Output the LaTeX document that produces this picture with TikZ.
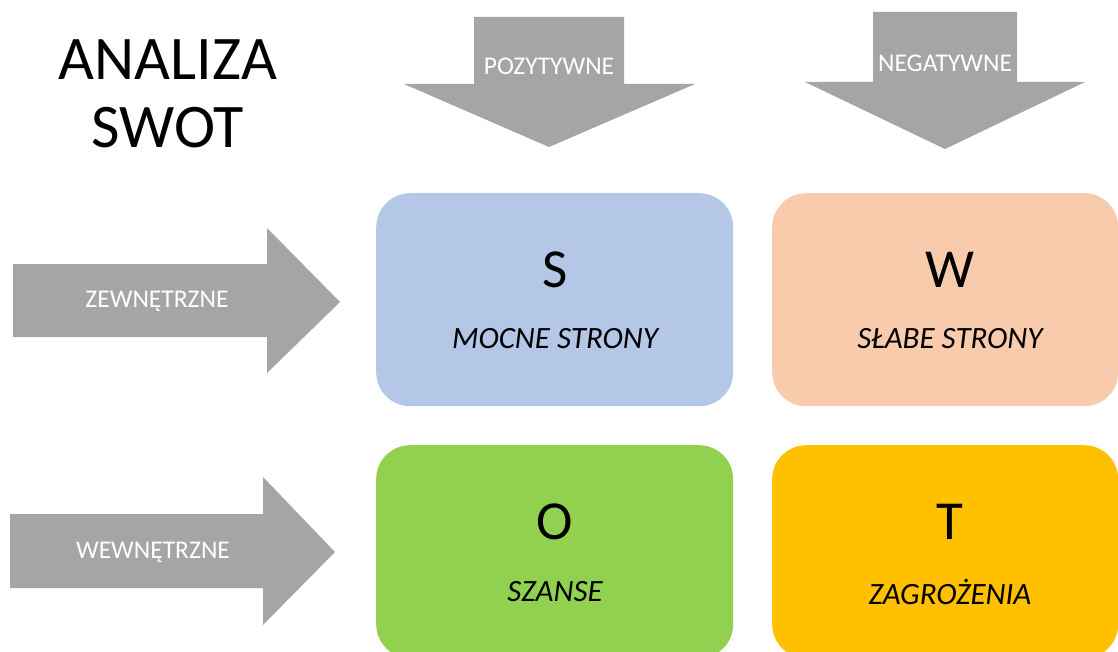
\documentclass[tikz,border=0pt]{standalone}
\usepackage{fontspec}
\setmainfont{Carlito}
\definecolor{arrowgray}{HTML}{A5A5A5}
\definecolor{sblue}{HTML}{B4C7E7}
\definecolor{wpeach}{HTML}{F8CBAD}
\definecolor{ogreen}{HTML}{92D050}
\definecolor{tyellow}{HTML}{FFC000}
\tikzset{
  garrow/.style={fill=arrowgray, draw=none},
  arrowlabel/.style={text=white, font=\fontsize{25.5}{30}\selectfont, inner sep=0pt},
  swotbox/.style={rounded corners=34pt, draw=none, minimum width=357pt, minimum height=213pt, inner sep=0pt},
  bigletter/.style={font=\fontsize{55}{60}\selectfont, inner sep=0pt},
  boxlabel/.style={font=\itshape\fontsize{31}{35}\selectfont, inner sep=0pt},
}
\begin{document}
\begin{tikzpicture}[x=1pt,y=-1pt]
\useasboundingbox (0,0) rectangle (1118,652);
\clip (0,0) rectangle (1118,652);
\fill[white] (0,0) rectangle (1118,652);

% title
\node[font=\fontsize{62}{68}\selectfont, align=center, inner sep=0pt] (title) at (168,94) {ANALIZA\\SWOT};

% down arrows
\fill[garrow] (474,17) -- (624,17) -- (624,84) -- (695,84) -- (549,147) -- (404,84) -- (474,84) -- cycle;
\node[arrowlabel] (poz) at (549,66) {POZYTYWNE};
\fill[garrow] (873,12) -- (1017,12) -- (1017,82) -- (1085,82) -- (945,149) -- (805,82) -- (873,82) -- cycle;
\node[arrowlabel] (neg) at (945,63) {NEGATYWNE};

% right arrows
\fill[garrow] (13,264) -- (267,264) -- (267,228) -- (340,302) -- (267,373) -- (267,337) -- (13,337) -- cycle;
\node[arrowlabel] (zew) at (157,301) {ZEWNĘTRZNE};
\fill[garrow] (10,514) -- (263,514) -- (263,477) -- (335,552) -- (263,625) -- (263,588) -- (10,588) -- cycle;
\node[arrowlabel] (wew) at (153,552) {WEWNĘTRZNE};

% boxes
\node[swotbox, fill=sblue, anchor=north west] (S) at (376,193) {};
\node[swotbox, fill=wpeach, anchor=north west, minimum width=346pt] (W) at (772,193) {};
\node[swotbox, fill=ogreen, anchor=north west] (O) at (376,445) {};
\node[swotbox, fill=tyellow, anchor=north west, minimum width=346pt] (T) at (772,445) {};

\node[bigletter] (Sl) at (555,270) {S};
\node[boxlabel] (Sd) at (555,339) {MOCNE STRONY};
\node[bigletter] (Wl) at (950,270) {W};
\node[boxlabel] (Wd) at (950,339) {SŁABE STRONY};
\node[bigletter] (Ol) at (555,522) {O};
\node[boxlabel] (Od) at (555,592) {SZANSE};
\node[bigletter] (Tl) at (950,522) {T};
\node[boxlabel] (Td) at (950,592) {ZAGROŻENIA};
\end{tikzpicture}
\end{document}
